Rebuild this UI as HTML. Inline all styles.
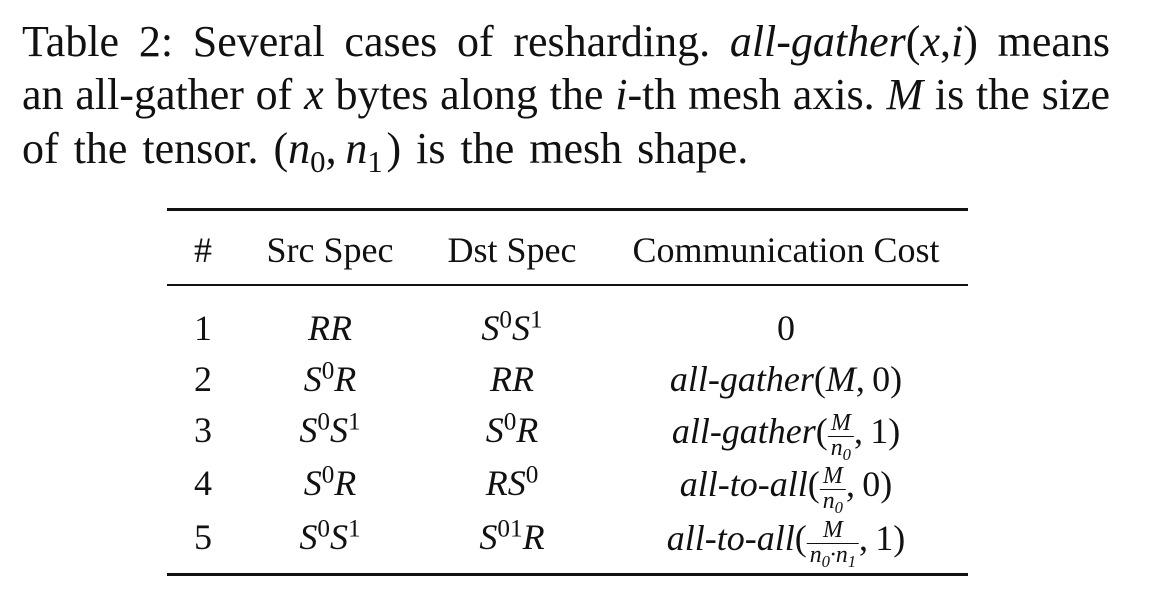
<!DOCTYPE html>
<html><head><meta charset="utf-8">
<style>
body{margin:0;width:1170px;height:606px;background:#fff;overflow:hidden;font-family:"Liberation Serif",serif;color:#111;position:relative}
.cap{position:absolute;left:22px;font-size:44px;white-space:nowrap;line-height:1}
.j{width:1088px;text-align:justify;text-align-last:justify;white-space:normal}
i{font-style:italic}
.rule{position:absolute;left:167px;width:801px;background:#111}
.cell{position:absolute;font-size:36px;line-height:1;white-space:nowrap;transform:translateX(-50%)}
sup{font-size:0.7em;vertical-align:0.5em;line-height:0}
.fr{display:inline-block;vertical-align:-0.5em;text-align:center;font-size:0.66em;font-style:italic;line-height:1}
.fr span{display:block;padding:0 3px}
.fr .n{border-bottom:1.5px solid #111}
sub{font-size:0.7em;vertical-align:-0.3em;line-height:0}
</style></head><body>
<div class="cap j" style="top:20px">Table 2: Several cases of resharding. <i>all-gather</i>(<i>x</i>,<i>i</i>) means</div>
<div class="cap j" style="top:73px">an all-gather of <i>x</i> bytes along the <i>i</i>-th mesh axis. <i>M</i> is the size</div>
<div class="cap" style="top:127px;word-spacing:4px">of the tensor. (<i>n</i><sub>0</sub>,&#8201;<i>n</i><sub>1</sub>&#8202;) is the mesh shape.</div>

<div class="rule" style="top:208px;height:3px"></div>
<div class="rule" style="top:284px;height:2px"></div>
<div class="rule" style="top:573px;height:3px"></div>

<div>
<div class="cell" style="left:203px;top:232px">#</div>
<div class="cell" style="left:330px;top:232px">Src Spec</div>
<div class="cell" style="left:512px;top:232px">Dst Spec</div>
<div class="cell" style="left:786px;top:232px">Communication Cost</div>
</div>

<div>
<div class="cell" style="left:203px;top:310px">1</div>
<div class="cell" style="left:330px;top:310px"><i>RR</i></div>
<div class="cell" style="left:512px;top:310px"><i>S</i><sup>0</sup><i>S</i><sup>1</sup></div>
<div class="cell" style="left:786px;top:310px">0</div>
</div>
<div>
<div class="cell" style="left:203px;top:361px">2</div>
<div class="cell" style="left:330px;top:361px"><i>S</i><sup>0</sup><i>R</i></div>
<div class="cell" style="left:512px;top:361px"><i>RR</i></div>
<div class="cell" style="left:786px;top:361px"><i>all-gather</i>(<i>M</i>,&#8201;0)</div>
</div>
<div>
<div class="cell" style="left:203px;top:412px">3</div>
<div class="cell" style="left:330px;top:412px"><i>S</i><sup>0</sup><i>S</i><sup>1</sup></div>
<div class="cell" style="left:512px;top:412px"><i>S</i><sup>0</sup><i>R</i></div>
<div class="cell" style="left:786px;top:412px"><i>all-gather</i>(<span class="fr"><span class="n">M</span><span><i>n</i><sub>0</sub></span></span>,&#8201;1)</div>
</div>
<div>
<div class="cell" style="left:203px;top:465px">4</div>
<div class="cell" style="left:330px;top:465px"><i>S</i><sup>0</sup><i>R</i></div>
<div class="cell" style="left:512px;top:465px"><i>RS</i><sup>0</sup></div>
<div class="cell" style="left:786px;top:465px"><i>all-to-all</i>(<span class="fr"><span class="n">M</span><span><i>n</i><sub>0</sub></span></span>,&#8201;0)</div>
</div>
<div>
<div class="cell" style="left:203px;top:519px">5</div>
<div class="cell" style="left:330px;top:519px"><i>S</i><sup>0</sup><i>S</i><sup>1</sup></div>
<div class="cell" style="left:512px;top:519px"><i>S</i><sup>01</sup><i>R</i></div>
<div class="cell" style="left:786px;top:519px"><i>all-to-all</i>(<span class="fr"><span class="n">M</span><span><i>n</i><sub>0</sub>·<i>n</i><sub>1</sub></span></span>,&#8201;1)</div>
</div>
</body></html>
